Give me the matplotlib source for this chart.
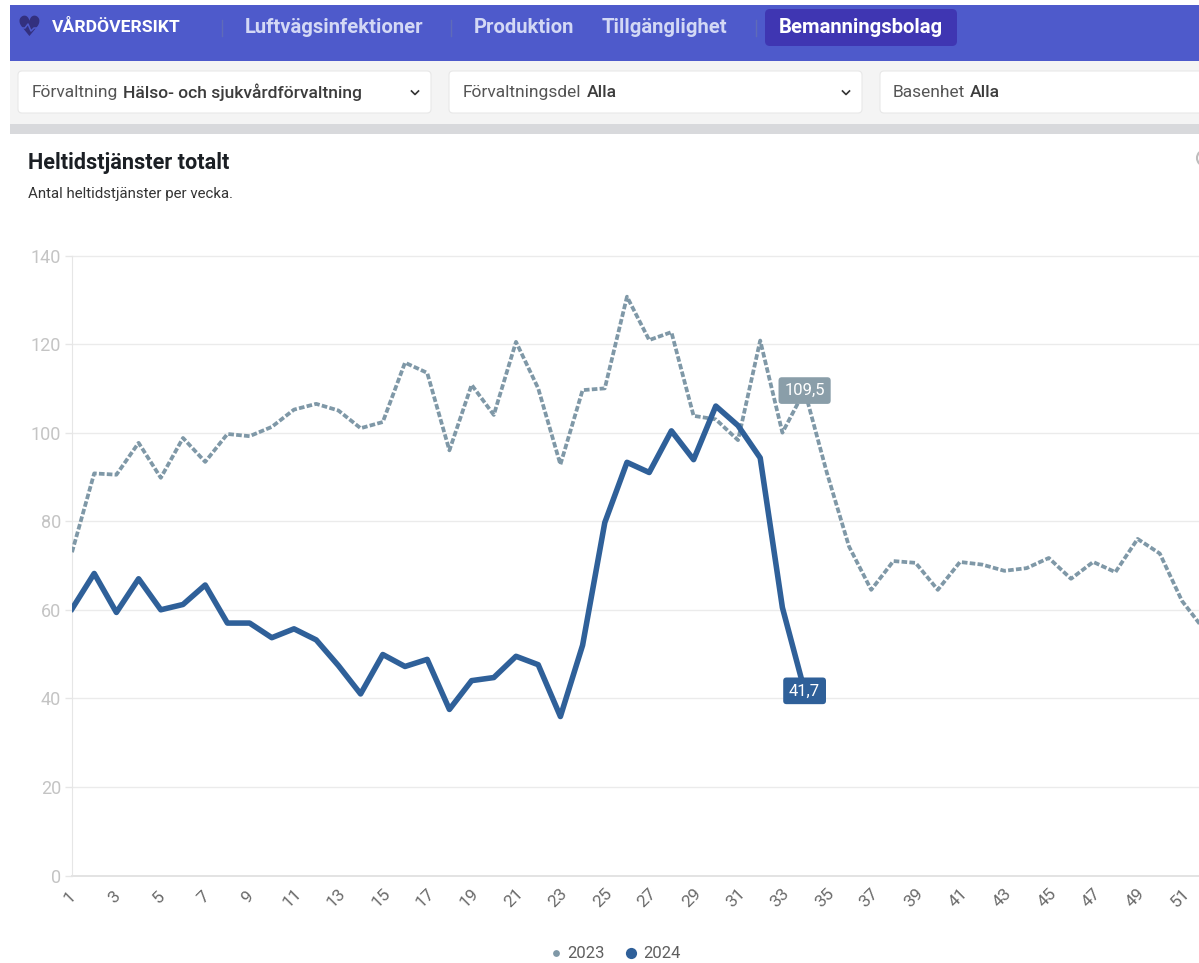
import matplotlib
matplotlib.use('Agg')
import matplotlib.pyplot as plt
from matplotlib.patches import Circle, FancyBboxPatch, Rectangle
from matplotlib.transforms import ScaledTranslation

weeks_2023 = list(range(1, 53))
values_2023 = [73, 90.8, 90.5, 97.7, 89.8, 98.8, 93.4, 99.7, 99.2, 101.3,
               105.2, 106.5, 105, 101, 102.4, 115.8, 113.5, 96, 110.8, 104,
               120.5, 110, 92.8, 109.6, 110, 130.7, 120.9, 122.7, 103.8, 103,
               98.3, 120.8, 100, 109.5, 91, 74.3, 64.5, 71, 70.6, 64.5,
               70.8, 70.2, 68.8, 69.4, 71.7, 67, 70.8, 68.5, 76, 72.7,
               62, 55.5]
weeks_2024 = list(range(1, 35))
values_2024 = [60.2, 68.2, 59.4, 67, 60, 61.2, 65.6, 57, 57, 53.7,
               55.7, 53.2, 47.4, 41, 49.9, 47.2, 48.8, 37.5, 44, 44.7,
               49.5, 47.6, 35.9, 52, 79.7, 93.3, 91, 100.4, 93.9, 106,
               101.6, 94.3, 60.5, 41.7]
x_ticks = list(range(1, 52, 2))
y_ticks = list(range(0, 141, 20))

nav_items = ['Luftvägsinfektioner', 'Produktion', 'Tillgänglighet']
nav_x = [245, 474, 602]
nav_sep_x = [222, 451, 756]

C_2023 = '#7f98a7'
C_2024 = '#2f6099'
W, H = 1199, 963

plt.rcParams['font.family'] = ['Roboto', 'DejaVu Sans']
fig = plt.figure(figsize=(W / 100, H / 100), dpi=100, facecolor='white')


def box(ui, x0, y0, x1, y1, color, edge='none', r=4):
    ui.add_patch(FancyBboxPatch((x0 + r, y0 + r), x1 - x0 - 2 * r, y1 - y0 - 2 * r,
                                boxstyle=f'round,pad={r},rounding_size={r}',
                                fc=color, ec=edge, lw=0.8))


# page furniture, drawn in pixel coordinates
ui = fig.add_axes([0, 0, 1, 1], zorder=0)
ui.set_xlim(0, W)
ui.set_ylim(H, 0)
ui.axis('off')

ui.add_patch(Rectangle((10, 5), W - 10, 56, fc='#4e5acb', ec='none'))
ui.add_patch(Rectangle((10, 61), W - 10, 63, fc='#f4f4f4', ec='none'))
ui.add_patch(Rectangle((10, 124), W - 10, 10, fc='#d8d9dc', ec='none'))

ui.text(29, 28, '♥', color='#33307f', fontsize=20, ha='center', va='center',
        family='DejaVu Sans')
ui.plot([17, 25, 28, 31, 34, 41], [28, 28, 24, 31, 28, 28], color='#4e5acb', lw=1.1, zorder=5)
ui.text(52, 27, 'VÅRDÖVERSIKT', color='white', fontsize=12.6, weight='bold', va='center')
for sx in nav_sep_x:
    ui.plot([sx, sx], [20, 36], color='#5f6bb8', lw=1)
for label, lx in zip(nav_items, nav_x):
    ui.text(lx, 27.5, label, color='#d3d8f5', fontsize=14.6, weight='bold', va='center')
box(ui, 765, 9, 957, 46, '#3f36b2', r=5)
ui.text(779, 27.5, 'Bemanningsbolag', color='white', fontsize=14.6, weight='bold', va='center')

# filter boxes
for x0, x1 in [(18, 431), (449, 862), (880, 1210)]:
    box(ui, x0, 71, x1, 113, 'white', edge='#e8e8e8')
ui.text(32, 92.5, 'Förvaltning', color='#555555', fontsize=12.5, va='center')
ui.text(123, 92.5, 'Hälso- och sjukvårdförvaltning', color='#3c3c3c', fontsize=12.6,
        weight='medium', va='center')
ui.text(463, 92.5, 'Förvaltningsdel', color='#555555', fontsize=12.5, va='center')
ui.text(587, 92.5, 'Alla', color='#3c3c3c', fontsize=12.6, weight='medium', va='center')
ui.text(893, 92.5, 'Basenhet', color='#555555', fontsize=12.5, va='center')
ui.text(970, 92.5, 'Alla', color='#3c3c3c', fontsize=12.6, weight='medium', va='center')
for cx in [415, 846]:
    ui.plot([cx - 3.5, cx, cx + 3.5], [91, 94.5, 91], color='#333333', lw=1.2)

ui.text(28, 163, 'Heltidstjänster totalt', color='#1b1f24', fontsize=15.6, weight='bold', va='center')
ui.text(28, 194, 'Antal heltidstjänster per vecka.', color='#333333', fontsize=10.8, va='center')
ui.add_patch(Circle((1205, 158), 8, fc='none', ec='#bdbdbd', lw=1.5))

# legend
ui.scatter([556], [953.5], s=24, color=C_2023, linewidths=0)
ui.text(567, 953, '2023', color='#5f5f5f', fontsize=12, va='center')
ui.scatter([631], [953.5], s=65, color=C_2024, linewidths=0)
ui.text(643, 953, '2024', color='#5f5f5f', fontsize=12, va='center')

# chart
step = 22.2
ax = fig.add_axes([72 / W, (H - 875.5) / H, (W - 72) / W, 620 / H], zorder=1)
ax.patch.set_alpha(0)
ax.set_xlim(1, 1 + (W - 72) / step)
ax.set_ylim(0, 140)
ax.plot(weeks_2023, values_2023, color=C_2023, lw=2.7, linestyle=(0, (1.5, 0.6)),
        solid_joinstyle='miter', zorder=3)
ax.plot(weeks_2024, values_2024, color=C_2024, lw=4, solid_joinstyle='round', zorder=4)

ax.set_yticks(y_ticks)
ax.set_xticks(x_ticks)
ax.grid(axis='y', color='#ebebeb', lw=1)
ax.set_axisbelow(True)
for side in ['top', 'right']:
    ax.spines[side].set_visible(False)
ax.spines['left'].set_color('#e6e6e6')
ax.spines['bottom'].set_color('#e3e3e3')
ax.spines['bottom'].set_linewidth(1.4)
ax.tick_params(axis='y', labelcolor='#c4c4c4', labelsize=13, length=5, width=1, color='#e6e6e6', pad=3)
ax.tick_params(axis='x', length=0, pad=16, labelsize=12.5, labelcolor='#6a6a6a')
shift = ScaledTranslation(-2 / 100, 0, fig.dpi_scale_trans)
for lab in ax.get_xticklabels():
    lab.set(rotation=45, ha='center', va='center', rotation_mode='anchor')
    lab.set_transform(lab.get_transform() + shift)

ax.text(weeks_2023[33], values_2023[33], '109,5', color='white', fontsize=12, ha='center', va='center',
        zorder=5, bbox=dict(boxstyle='round,pad=0.35,rounding_size=0.2', fc='#8a9ea9', ec='none'))
ax.text(weeks_2024[33], values_2024[33], '41,7', color='white', fontsize=12, ha='center', va='center',
        zorder=5, bbox=dict(boxstyle='round,pad=0.35,rounding_size=0.2', fc=C_2024, ec='none'))

fig.savefig('out.png', dpi=100)
